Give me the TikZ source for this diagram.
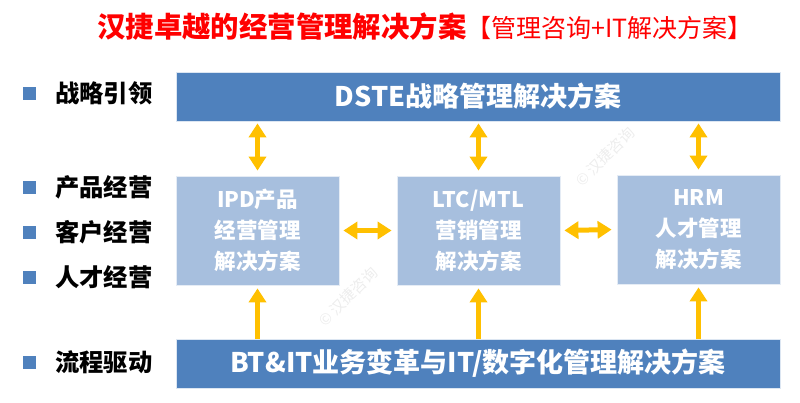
\documentclass[tikz,border=0pt]{standalone}
\usepackage{fontspec}
\setmainfont{Noto Sans CJK SC}
\usetikzlibrary{arrows.meta}
\definecolor{dkblue}{HTML}{4F81BD}
\definecolor{ltblue}{HTML}{A7BFDE}
\definecolor{gold}{HTML}{FFC000}
\definecolor{titlered}{HTML}{FF0000}
\tikzset{
  bar/.style={fill=dkblue, draw=white!80!dkblue, line width=0.8pt, minimum width=604pt, minimum height=49pt, inner sep=0pt, text=white, font=\fontsize{27}{30}\selectfont\bfseries},
  midbox/.style={fill=ltblue, draw=white!70!ltblue, line width=0.8pt, minimum width=163pt, minimum height=109pt, inner sep=0pt, text=white, align=center, font=\fontsize{21.5}{31}\selectfont\bfseries},
  bullet/.style={fill=dkblue, minimum size=13pt, inner sep=0pt},
  lbl/.style={anchor=west, inner sep=0pt, font=\fontsize{24.3}{27}\selectfont\bfseries},
  dbl/.style={gold, line width=5pt, {Triangle[width=17pt,length=14pt]}-{Triangle[width=17pt,length=14pt]}},
  uparr/.style={gold, line width=5pt, -{Triangle[width=17pt,length=14pt]}},
  wm/.style={text=black!7, rotate=45, font=\fontsize{15}{18}\selectfont}
}
\begin{document}
\begin{tikzpicture}[x=1pt,y=-1pt]
\useasboundingbox (0,0) rectangle (800,402);
% watermarks
\node[wm] (w1) at (605,157) {© 汉捷咨询};
\node[wm] (w2) at (348,297) {© 汉捷咨询};
% title
\node[anchor=west, inner sep=0pt, text=titlered] (title) at (97,27)
  {{\fontsize{28.4}{30}\selectfont\bfseries 汉捷卓越的经营管理解决方案}{\fontsize{25}{30}\selectfont 【管理咨询+IT解决方案】}};
% bars
\node[bar] (top) at (478,96.5) {DSTE战略管理解决方案};
\node[bar] (bot) at (478,363.5) {BT\&IT业务变革与IT/数字化管理解决方案};
% middle boxes
\node[midbox] (ipd) at (257.5,230.5) {IPD产品\\经营管理\\解决方案};
\node[midbox] (ltc) at (478.5,230.5) {LTC/MTL\\营销管理\\解决方案};
\node[midbox] (hrm) at (698.5,229.5) {HRM\\人才管理\\解决方案};
% arrows top-middle
\draw[dbl, shorten <=2pt, shorten >=5pt] (top.south -| ipd.north) -- (ipd.north);
\draw[dbl, shorten <=2pt, shorten >=5pt] (top.south -| ltc.north) -- (ltc.north);
\draw[dbl, shorten <=2pt, shorten >=5pt] (top.south -| hrm.north) -- (hrm.north);
% arrows bottom-middle
\draw[uparr, shorten >=3pt] (bot.north -| ipd.south) -- (ipd.south);
\draw[uparr, shorten >=3pt] (bot.north -| ltc.south) -- (ltc.south);
\draw[uparr, shorten >=3pt] (bot.north -| hrm.south) -- (hrm.south);
% horizontal arrows
\draw[dbl, shorten <=4pt, shorten >=5pt] (ipd.east) -- (ltc.west);
\draw[dbl, shorten <=4pt, shorten >=5pt] (ltc.east) -- (hrm.west);
% left labels
\node[bullet] (b1) at (29,93) {};
\node[lbl] (l1) at (55,93) {战略引领};
\node[bullet] (b2) at (29,187) {};
\node[lbl] (l2) at (55,187) {产品经营};
\node[bullet] (b3) at (29,232) {};
\node[lbl] (l3) at (55,232) {客户经营};
\node[bullet] (b4) at (29,277) {};
\node[lbl] (l4) at (55,277) {人才经营};
\node[bullet] (b5) at (29,362) {};
\node[lbl] (l5) at (55,362) {流程驱动};
\end{tikzpicture}
\end{document}
